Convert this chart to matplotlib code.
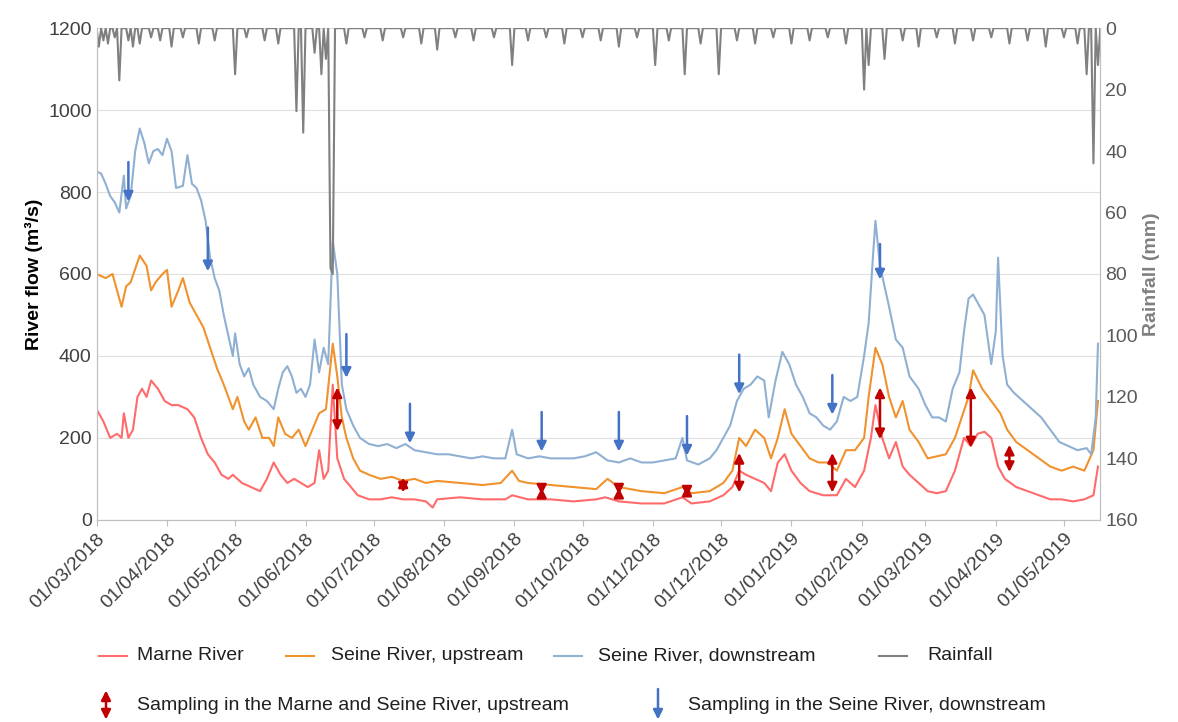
import numpy as np
import pandas as pd
import matplotlib
matplotlib.use("Agg")
import matplotlib.pyplot as plt
import matplotlib.dates as mdates
from matplotlib.lines import Line2D
from matplotlib.patches import FancyArrowPatch

plt.rcParams['font.family'] = ['Liberation Sans', 'DejaVu Sans']

start = pd.Timestamp("2018-03-01")

# --- data (day offsets from 01/03/2018) ---
down_days = [0,2,4,6,8,10,12,13,15,17,19,21,23,25,27,29,31,33,35,38,40,42,44,46,48,50,52,54,56,58,60,61,63,65,67,69,72,75,78,80,82,84,86,88,90,92,94,96,98,100,102,104,106,108,110,113,116,120,124,128,132,136,140,145,150,155,160,165,170,175,180,183,185,190,195,200,205,210,215,220,225,230,235,240,245,250,255,258,260,265,270,273,276,279,282,285,288,291,294,296,299,302,305,308,311,314,317,320,323,326,329,332,335,338,340,342,343,345,347,349,352,355,358,362,365,368,371,374,377,380,382,384,386,388,391,394,396,397,399,401,404,408,412,416,420,424,428,432,436,438,440,441]
down_vals = [850,845,820,790,775,750,840,760,790,900,955,920,870,900,905,890,930,900,810,815,890,820,810,780,730,640,590,560,500,450,400,455,380,350,370,330,300,290,270,320,360,375,350,310,320,300,330,440,360,420,380,680,600,330,270,230,200,185,180,185,175,185,170,165,160,160,155,150,155,150,150,220,160,150,155,150,150,150,155,165,145,140,150,140,140,145,150,200,145,135,150,170,200,230,290,320,330,350,340,250,340,410,380,330,300,260,250,230,220,240,300,290,300,400,480,650,730,620,570,520,440,420,350,320,280,250,250,240,320,360,460,540,550,530,500,380,460,640,400,330,310,290,270,250,220,190,180,170,175,160,250,430]

up_days = [0,4,7,9,11,13,15,19,22,24,26,29,31,33,36,38,41,44,47,50,53,56,58,60,62,65,67,70,73,76,78,80,83,86,89,92,95,98,101,104,106,108,110,113,116,120,125,130,135,140,145,150,160,170,178,183,186,190,200,210,220,225,230,240,250,258,262,270,276,280,283,286,290,294,297,300,303,306,310,314,318,322,326,330,334,338,340,343,346,349,352,355,358,362,366,370,374,378,381,384,386,390,394,398,401,405,410,415,420,425,430,435,439,441]
up_vals = [600,590,600,560,520,570,580,645,620,560,580,600,610,520,560,590,530,500,470,420,370,330,300,270,300,240,220,250,200,200,180,250,210,200,220,180,220,260,270,430,350,250,200,150,120,110,100,105,95,100,90,95,90,85,90,120,95,90,85,80,75,100,80,70,65,80,65,70,90,120,200,180,220,200,150,200,270,210,180,150,140,140,120,170,170,200,300,420,380,300,250,290,220,190,150,155,160,200,250,300,365,320,290,260,220,190,170,150,130,120,130,120,170,290]

marne_days = [0,3,6,9,11,12,14,16,18,20,22,24,27,30,33,36,40,43,46,49,52,55,58,60,64,68,72,75,78,81,84,87,90,93,96,98,100,102,104,106,109,112,115,120,125,130,135,140,145,148,150,160,170,180,183,190,200,210,220,224,230,240,250,258,262,270,276,280,283,286,290,294,297,300,303,306,310,314,320,326,330,334,338,341,343,346,349,352,355,358,362,366,370,374,378,382,385,388,391,394,397,400,405,410,415,420,425,430,435,439,441]
marne_vals = [270,240,200,210,200,260,200,220,300,320,300,340,320,290,280,280,270,250,200,160,140,110,100,110,90,80,70,100,140,110,90,100,90,80,90,170,100,120,330,150,100,80,60,50,50,55,50,50,45,30,50,55,50,50,60,50,50,45,50,55,45,40,40,55,40,45,60,80,120,110,100,90,70,140,160,120,90,70,60,60,100,80,120,200,280,200,150,190,130,110,90,70,65,70,120,200,180,210,215,200,130,100,80,70,60,50,50,45,50,60,130]

rain_days = [1,3,5,8,10,14,16,19,24,28,33,38,45,52,61,66,74,80,88,91,96,99,101,103,104,110,118,126,135,143,150,158,166,175,183,190,198,206,214,222,230,238,246,252,259,266,274,282,290,298,306,314,322,330,338,340,347,355,362,370,378,386,394,402,410,418,426,432,436,439,441]
rain_vals = [6,4,5,3,17,4,6,5,3,4,6,3,5,4,15,3,4,5,27,34,8,15,10,78,80,5,3,4,3,5,7,3,4,3,12,4,3,5,3,4,6,3,12,4,15,5,15,4,5,3,5,4,3,5,20,12,10,4,6,3,5,4,3,5,4,6,3,5,15,44,12]

# sampling events: (day, top, bottom)
updays = [106,135,196,230,260,283,324,345,385,402]
up_top = [330,110,85,85,90,170,170,330,330,190]
up_bot = [210,60,55,55,50,60,60,190,170,110]
dndays = [14,49,110,138,196,230,260,283,324,345]
dn_top = [880,720,460,290,270,270,260,410,360,680]
dn_bot = [770,600,340,180,160,160,150,300,250,580]

series_names = ["Marne River", "Seine River, upstream", "Seine River, downstream", "Rainfall"]

def todate(d):
    return start + pd.to_timedelta(np.asarray(d), unit="D")

RED = "#ff6b6b"
ORANGE = "#f0922e"
BLUE = "#8fb0d3"
GREY = "#808080"
DRED = "#c00000"
DBLUE = "#4472c4"
FS = 14
W, H = 1178, 722

fig = plt.figure(figsize=(W / 100, H / 100), dpi=100)
ax = fig.add_axes([0.082, 0.28, 0.852, 0.681])
ax.plot(todate(marne_days), marne_vals, color=RED, lw=1.5)
ax.plot(todate(up_days), up_vals, color=ORANGE, lw=1.5)
ax.plot(todate(down_days), down_vals, color=BLUE, lw=1.5)

for d, t, b in zip(updays, up_top, up_bot):
    ax.annotate("", xy=(todate(d), b), xytext=(todate(d), t),
                arrowprops=dict(arrowstyle="<|-|>", color=DRED, lw=1.8, mutation_scale=14))
for d, t, b in zip(dndays, dn_top, dn_bot):
    ax.annotate("", xy=(todate(d), b), xytext=(todate(d), t),
                arrowprops=dict(arrowstyle="-|>", color=DBLUE, lw=1.8, mutation_scale=14))

ax.set_ylim(0, 1200)
ax.set_yticks(range(0, 1201, 200))
ax.set_xlim(start, start + pd.Timedelta(days=442))
ax.xaxis.set_major_locator(mdates.MonthLocator())
ax.xaxis.set_major_formatter(mdates.DateFormatter("%d/%m/%Y"))
plt.setp(ax.get_xticklabels(), rotation=45, ha="right", rotation_mode="anchor")
ax.tick_params(labelsize=FS, colors="#404040")
ax.tick_params(axis="x", length=4, color="#bfbfbf")
ax.tick_params(axis="y", length=0)
ax.grid(axis="y", color="#e0e0e0", lw=0.8)
ax.set_axisbelow(True)
ax.spines["top"].set_visible(False)
for s in ["left", "bottom", "right"]:
    ax.spines[s].set_color("#bfbfbf")
ax.set_ylabel("River flow (m³/s)", fontsize=FS, fontweight="bold")

ax2 = ax.twinx()
rain = pd.Series(rain_vals, index=rain_days).reindex(range(0, 443), fill_value=0)
ax2.plot(todate(rain.index), rain.values, color=GREY, lw=1.5)
ax2.set_ylim(160, 0)
ax2.set_yticks(range(0, 161, 20))
ax2.tick_params(labelsize=FS, colors="#595959", length=0)
ax2.spines["top"].set_visible(False)
for s in ["left", "bottom", "right"]:
    ax2.spines[s].set_color("#bfbfbf")
ax2.set_ylabel("Rainfall (mm)", fontsize=FS, fontweight="bold", color=GREY)
ax2.set_xlim(ax.get_xlim())

# legend row 1, placed by hand (pixel positions)
y1 = 1 - 656 / H
for x0, xt, c, name in zip([99, 286, 554, 879], [137, 331, 598, 927],
                           [RED, ORANGE, BLUE, GREY], series_names):
    fig.add_artist(Line2D([x0 / W, (x0 + 28) / W], [y1, y1], color=c, lw=1.5))
    fig.text(xt / W, y1, name, fontsize=FS, va="center", color="#202020")

# legend row 2
y2 = 1 - 705 / H
fig.patches.append(FancyArrowPatch((106 / W, y2 + 0.024), (106 / W, y2 - 0.024), transform=fig.transFigure,
                   arrowstyle="<|-|>", color=DRED, lw=1.8, mutation_scale=14))
fig.text(137 / W, y2, "Sampling in the Marne and Seine River, upstream", fontsize=FS, va="center", color="#202020")
fig.patches.append(FancyArrowPatch((658 / W, y2 + 0.026), (658 / W, y2 - 0.024), transform=fig.transFigure,
                   arrowstyle="-|>", color=DBLUE, lw=1.8, mutation_scale=14))
fig.text(688 / W, y2, "Sampling in the Seine River, downstream", fontsize=FS, va="center", color="#202020")

fig.savefig("out.png", dpi=100)
